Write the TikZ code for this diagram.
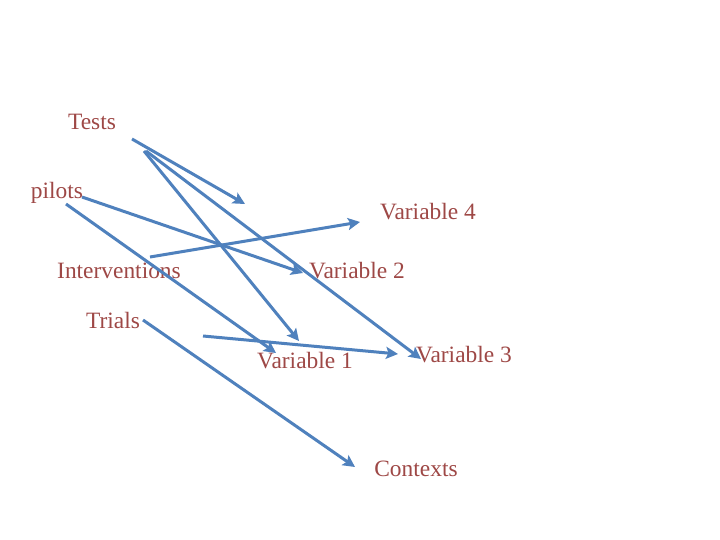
\documentclass[tikz,border=0pt]{standalone}
\usepackage{fontspec}
\setmainfont{Liberation Serif}
\usetikzlibrary{arrows.meta}
\definecolor{txtred}{RGB}{158,72,70}
\definecolor{arrblue}{RGB}{79,129,189}
\begin{document}
\begin{tikzpicture}[x=1bp,y=-1bp,
  lbl/.style={text=txtred,font=\fontsize{23.5}{28}\selectfont,inner sep=0pt},
  conn/.style={draw=arrblue,line width=3bp,-{Stealth[length=12bp,width=12bp,inset=2.5bp]}}]
\useasboundingbox[fill=white] (0,0) rectangle (720,540);
% labels
\node[lbl] (tests) at (92,122) {Tests};
\node[lbl] (pilots) at (57,193) {pilots};
\node[lbl] (v4) at (428,212) {Variable 4};
\node[lbl] (interv) at (119,271) {Interventions};
\node[lbl] (v2) at (357,271) {Variable 2};
\node[lbl] (trials) at (113,320) {Trials};
\node[lbl] (v1) at (305,361) {Variable 1};
\node[lbl] (v3) at (464,355) {Variable 3};
\node[lbl] (ctx) at (416,469) {Contexts};
% arrow endpoints
\coordinate (a1s) at (132,139); \coordinate (a1e) at (245,204);
\coordinate (a2s) at (144,151); \coordinate (a2e) at (299,341);
\coordinate (a3s) at (146,151); \coordinate (a3e) at (421,359);
\coordinate (a4s) at (82,197);  \coordinate (a4e) at (303,273);
\coordinate (a5s) at (66,204);  \coordinate (a5e) at (276,353);
\coordinate (a6s) at (150,257); \coordinate (a6e) at (360,222);
\coordinate (a7s) at (143,320); \coordinate (a7e) at (355,467);
\coordinate (a8s) at (203,336); \coordinate (a8e) at (398,354);
% arrows
\draw[conn] (a1s) -- (a1e);
\draw[conn] (a2s) -- (a2e);
\draw[conn] (a3s) -- (a3e);
\draw[conn] (a4s) -- (a4e);
\draw[conn] (a5s) -- (a5e);
\draw[conn] (a6s) -- (a6e);
\draw[conn] (a7s) -- (a7e);
\draw[conn] (a8s) -- (a8e);
\end{tikzpicture}
\end{document}
